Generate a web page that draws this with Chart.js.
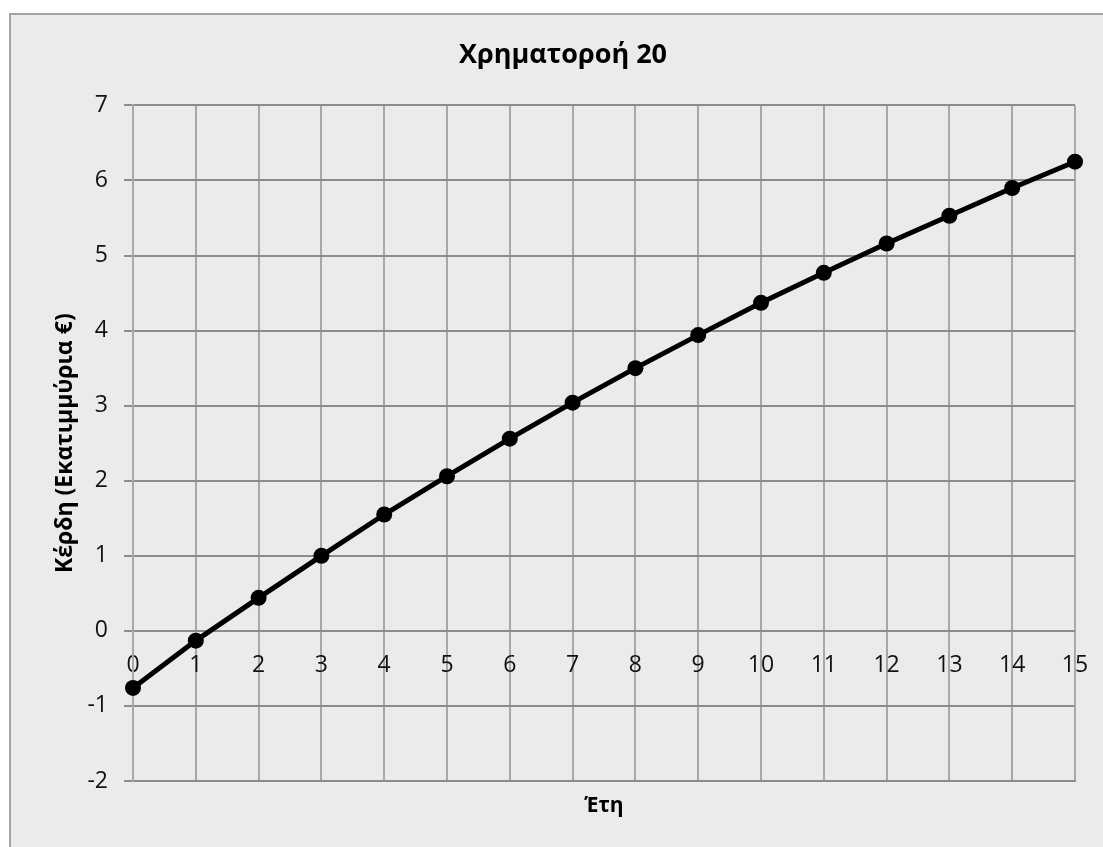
<!DOCTYPE html>
<html>
<head>
<meta charset="utf-8">
<script src="https://cdn.jsdelivr.net/npm/chart.js@4/dist/chart.umd.min.js"></script>
<style>
  html, body { margin: 0; padding: 0; background: #fff; overflow: hidden; }
  #frame {
    position: absolute; left: 9px; top: 13px;
    width: 1094px; height: 834px;
    background: #ebebeb;
    border-left: 2px solid #a3a3a3;
    border-top: 2px solid #a3a3a3;
  }
  #chart { display: block; }
</style>
</head>
<body>
<div id="frame">
  <canvas id="chart" width="1092" height="832"></canvas>
</div>
<script>
// data
const years = [0, 1, 2, 3, 4, 5, 6, 7, 8, 9, 10, 11, 12, 13, 14, 15];
const profits = [-0.76, -0.13, 0.44, 1.0, 1.55, 2.06, 2.56, 3.04, 3.50, 3.94, 4.37, 4.77, 5.16, 5.53, 5.90, 6.25];
const yMin = -2;
const yMax = 7;

const points = years.map((yr, i) => ({ x: yr, y: profits[i] }));
const font = "'Open Sans', 'Noto Sans', sans-serif";

const ctx = document.getElementById('chart').getContext('2d');
new Chart(ctx, {
  type: 'line',
  data: {
    datasets: [{
      label: 'Κέρδη',
      data: points,
      xAxisID: 'x',
      yAxisID: 'y',
      borderColor: '#000',
      backgroundColor: '#000',
      borderWidth: 5,
      pointRadius: 8,
      pointBackgroundColor: '#000',
      pointBorderWidth: 0,
      tension: 0,
      clip: false
    }]
  },
  options: {
    responsive: false,
    animation: false,
    // left padding keeps the title centred on the whole frame, like Excel
    layout: { padding: { left: 40, right: 28, top: 0, bottom: 0 } },
    plugins: {
      legend: { display: false },
      tooltip: { enabled: false },
      title: {
        display: true,
        text: 'Χρηματοροή 20',
        color: '#000',
        font: { family: font, size: 27, weight: 'bold' },
        padding: { top: 24, bottom: 34 }
      }
    },
    scales: {
      x: {
        type: 'linear',
        position: 'bottom',
        min: 0,
        max: 15,
        ticks: { display: false, stepSize: 1 },
        grid: { color: '#a8a8a8', lineWidth: 2, drawTicks: false },
        border: { display: true, color: '#8c8c8c', width: 2 },
        title: {
          display: true,
          text: 'Έτη',
          color: '#000',
          font: { family: font, size: 21, weight: 'bold' },
          padding: { top: 0, bottom: 28 }
        },
        afterFit: scale => { scale.height = 66; }
      },
      // labels sitting on the zero line, like the original
      xl: {
        type: 'linear',
        position: { y: 0 },
        min: 0,
        max: 15,
        ticks: {
          stepSize: 1,
          padding: 21,
          color: '#111',
          font: { family: font, size: 23 }
        },
        grid: { display: false, drawTicks: false },
        border: { display: false },
        afterFit: scale => { scale.paddingLeft = 0; scale.paddingRight = 0; }
      },
      y: {
        type: 'linear',
        position: 'left',
        min: yMin,
        max: yMax,
        ticks: {
          stepSize: 1,
          padding: 16,
          color: '#111',
          font: { family: font, size: 23 }
        },
        grid: { color: '#8c8c8c', lineWidth: 2, tickLength: 9 },
        border: { display: true, color: '#a8a8a8', width: 2 },
        title: {
          display: true,
          text: 'Κέρδη (Εκατιμμύρια €)',
          color: '#000',
          font: { family: font, size: 23, weight: 'bold' },
          padding: { top: 1, bottom: 0 }
        },
        afterFit: scale => { scale.width = 82; }
      }
    }
  }
});
</script>
</body>
</html>
